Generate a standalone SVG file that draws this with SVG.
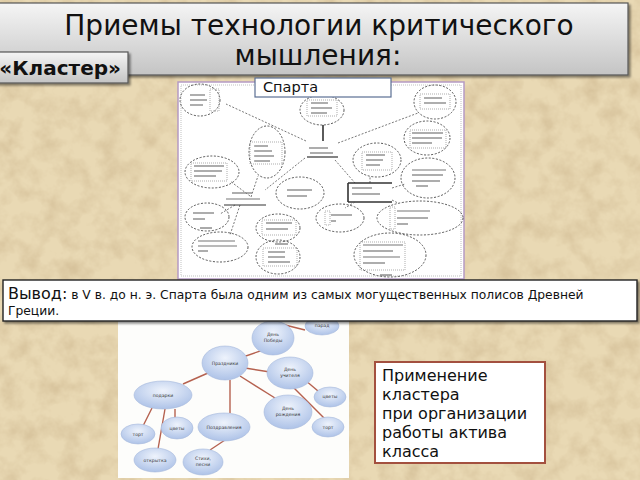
<svg xmlns="http://www.w3.org/2000/svg" width="640" height="480" viewBox="0 0 640 480">
<defs>
<filter id="paper" x="0" y="0" width="100%" height="100%">
<feTurbulence type="fractalNoise" baseFrequency="0.05" numOctaves="4" seed="7"/>
<feColorMatrix type="matrix" values="0 0 0 0 0.62  0 0 0 0 0.48  0 0 0 0 0.28  1.3 0 0 0 -0.5"/>
</filter>
<linearGradient id="gray" x1="0" y1="0" x2="0" y2="1">
<stop offset="0" stop-color="#f5f5f5"/>
<stop offset="1" stop-color="#c4c4c4"/>
</linearGradient>
<radialGradient id="bub" cx="0.5" cy="0.35" r="0.7">
<stop offset="0" stop-color="#eef3fc"/>
<stop offset="1" stop-color="#a9bfe6"/>
</radialGradient>
<filter id="sh" x="-5%" y="-5%" width="115%" height="130%">
<feDropShadow dx="2" dy="2" stdDeviation="1.2" flood-color="#000" flood-opacity="0.45"/>
</filter>
</defs>
<style>
.de{fill:none;stroke:#444;stroke-width:0.9;stroke-dasharray:2 1.6}
.dr{fill:none;stroke:#777;stroke-width:0.6;stroke-dasharray:1 1}
.tx{stroke:#777;stroke-width:1.2}
.dl{stroke:#555;stroke-width:0.8;stroke-dasharray:2 1.6;fill:none}
.sl{stroke:#333;stroke-width:1.6;fill:none}
.bn{fill:url(#bub);stroke:#a6b9dc;stroke-width:0.6}
.lk{stroke:#b5614f;stroke-width:1.4}
.bt{font-family:"DejaVu Sans",sans-serif;font-size:4.6px;fill:#333;text-anchor:middle}
</style>
<rect width="640" height="480" fill="#e9d9b4"/>
<rect width="640" height="480" filter="url(#paper)"/>

<g id="title">
<rect x="-4" y="3" width="632" height="72" fill="url(#gray)" stroke="#555" stroke-width="1.2" filter="url(#sh)"/>
<text x="319" y="35" font-family="DejaVu Sans, sans-serif" font-size="28" fill="#111" text-anchor="middle">Приемы технологии критического</text>
<text x="318" y="65" font-family="DejaVu Sans, sans-serif" font-size="28" fill="#111" text-anchor="middle">мышления:</text>
</g>

<g id="cluster-label">
<rect x="-6" y="52" width="134" height="31" fill="url(#gray)" stroke="#555" stroke-width="1.2" filter="url(#sh)"/>
<text x="121" y="75" font-family="DejaVu Sans, sans-serif" font-size="20" font-weight="bold" fill="#111" text-anchor="end">«Кластер»</text>
</g>

<g id="sparta-image">
<rect x="178" y="82" width="286" height="197" fill="#fff" stroke="#b59ac4" stroke-width="1.5"/>
<rect x="181" y="85" width="280" height="191" fill="none" stroke="#999" stroke-width="0.6" stroke-dasharray="1 1"/>
<g id="sparta-connectors">
<line class="dl" x1="306" y1="141" x2="226" y2="104"/>
<line class="dl" x1="338" y1="143" x2="418" y2="113"/>
<line x1="323" y1="141" x2="323" y2="125" stroke="#333" stroke-width="1.6"/>
<line class="dl" x1="305" y1="158" x2="265" y2="190"/>
<line class="dl" x1="335" y1="160" x2="355" y2="183"/>
<line class="dl" x1="250" y1="196" x2="230" y2="181"/>
<line class="dl" x1="251" y1="197" x2="258" y2="176"/>
<line class="dl" x1="235" y1="205" x2="220" y2="214"/>
<line class="dl" x1="240" y1="205" x2="230" y2="235"/>
<line class="dl" x1="370" y1="183" x2="370" y2="176"/>
<line class="dl" x1="392" y1="188" x2="405" y2="184"/>
<line class="sl" x1="348" y1="202" x2="392" y2="202"/>
<line class="sl" x1="348" y1="183" x2="348" y2="202"/>
<line class="sl" x1="348" y1="183" x2="392" y2="183"/>
<line class="dl" x1="355" y1="202" x2="345" y2="208"/>
<line class="dl" x1="392" y1="200" x2="398" y2="203"/>
</g>
<g id="sparta-nodes">
<ellipse class="de" cx="200" cy="100" rx="20" ry="16"/><rect class="dr" x="210" y="89" width="9" height="22"/>
<line class="tx" x1="190" y1="95" x2="205" y2="95"/><line class="tx" x1="190" y1="100" x2="207" y2="100"/><line class="tx" x1="190" y1="105" x2="203" y2="105"/>
<ellipse class="de" cx="322" cy="110" rx="22" ry="15"/><rect class="dr" x="307" y="100" width="30" height="16"/>
<line class="tx" x1="311" y1="103" x2="328" y2="103"/><line class="tx" x1="311" y1="108" x2="332" y2="108"/><line class="tx" x1="311" y1="113" x2="327" y2="113"/>
<ellipse class="de" cx="435" cy="102" rx="21" ry="17"/><rect class="dr" x="420" y="94" width="30" height="15"/>
<line class="tx" x1="424" y1="98" x2="442" y2="98"/><line class="tx" x1="424" y1="103" x2="446" y2="103"/>
<g id="center-node"><line class="tx" x1="309" y1="148" x2="328" y2="148"/><line class="tx" x1="310" y1="153" x2="333" y2="153"/><line x1="307" y1="157" x2="338" y2="157" stroke="#333" stroke-width="1.2"/></g>
<ellipse class="de" cx="267" cy="152" rx="18" ry="26"/><rect class="dr" x="250" y="142" width="32" height="22"/>
<line class="tx" x1="254" y1="146" x2="268" y2="146"/><line class="tx" x1="254" y1="151" x2="272" y2="151"/><line class="tx" x1="254" y1="156" x2="274" y2="156"/><line class="tx" x1="254" y1="161" x2="270" y2="161"/>
<ellipse class="de" cx="427" cy="138" rx="23" ry="17"/><rect class="dr" x="410" y="130" width="36" height="18"/>
<line class="tx" x1="412" y1="133" x2="443" y2="133"/><line class="tx" x1="412" y1="138" x2="442" y2="138"/><line class="tx" x1="412" y1="143" x2="432" y2="143"/>
<ellipse class="de" cx="377" cy="160" rx="24" ry="17"/><rect class="dr" x="362" y="152" width="30" height="18"/>
<line class="tx" x1="366" y1="155" x2="385" y2="155"/><line class="tx" x1="366" y1="160" x2="383" y2="160"/><line class="tx" x1="366" y1="165" x2="380" y2="165"/>
<ellipse class="de" cx="212" cy="172" rx="27" ry="16"/><rect class="dr" x="191" y="163" width="36" height="18"/>
<line class="tx" x1="194" y1="166" x2="224" y2="166"/><line class="tx" x1="194" y1="171" x2="222" y2="171"/><line class="tx" x1="194" y1="176" x2="216" y2="176"/>
<ellipse class="de" cx="428" cy="178" rx="27" ry="20"/>
<line class="tx" x1="412" y1="170" x2="446" y2="170"/><line class="tx" x1="412" y1="175" x2="443" y2="175"/><line class="tx" x1="412" y1="181" x2="440" y2="181"/><line class="tx" x1="416" y1="186" x2="428" y2="186"/>
<ellipse class="de" cx="300" cy="193" rx="24" ry="16"/>
<line class="tx" x1="287" y1="190" x2="312" y2="190"/><line class="tx" x1="287" y1="196" x2="307" y2="196"/>
<g id="left-subnode"><line class="tx" x1="232" y1="193" x2="252" y2="193"/><line class="tx" x1="226" y1="199" x2="260" y2="199"/><line x1="224" y1="205" x2="266" y2="205" stroke="#333" stroke-width="1.2"/></g>
<g id="right-rect"><line class="tx" x1="352" y1="188" x2="372" y2="188"/><line class="tx" x1="352" y1="194" x2="380" y2="194"/></g>
<ellipse class="de" cx="207" cy="217" rx="22" ry="14"/>
<line class="tx" x1="193" y1="213" x2="214" y2="213"/><line class="tx" x1="193" y1="219" x2="205" y2="219"/><line x1="200" y1="228" x2="212" y2="228" stroke="#555" stroke-width="1"/>
<ellipse class="de" cx="278" cy="228" rx="22" ry="14"/><rect class="dr" x="262" y="220" width="34" height="15"/>
<line class="tx" x1="266" y1="223" x2="292" y2="223"/><line class="tx" x1="266" y1="229" x2="288" y2="229"/>
<ellipse class="de" cx="340" cy="218" rx="24" ry="14"/><rect class="dr" x="325" y="211" width="5" height="14"/>
<line class="tx" x1="331" y1="215" x2="352" y2="215"/><line class="tx" x1="331" y1="221" x2="336" y2="221"/>
<ellipse class="de" cx="420" cy="218" rx="43" ry="17"/><rect class="dr" x="390" y="207" width="5" height="22"/>
<line class="tx" x1="397" y1="211" x2="430" y2="211"/><line class="tx" x1="397" y1="218" x2="428" y2="218"/><line class="tx" x1="397" y1="224" x2="408" y2="224"/>
<ellipse class="de" cx="220" cy="247" rx="28" ry="15"/>
<line class="tx" x1="198" y1="241" x2="235" y2="241"/><line class="tx" x1="198" y1="246" x2="237" y2="246"/><line class="tx" x1="198" y1="251" x2="208" y2="251"/>
<ellipse class="de" cx="278" cy="257" rx="22" ry="17"/><rect class="dr" x="263" y="248" width="34" height="18"/>
<line class="tx" x1="268" y1="252" x2="285" y2="252"/><line class="tx" x1="268" y1="257" x2="285" y2="257"/><line class="tx" x1="268" y1="262" x2="290" y2="262"/><line x1="275" y1="244" x2="288" y2="244" stroke="#555" stroke-width="1"/>
<ellipse class="de" cx="390" cy="255" rx="36" ry="22"/><rect class="dr" x="360" y="242" width="45" height="28"/>
<line class="tx" x1="363" y1="245" x2="403" y2="245"/><line class="tx" x1="363" y1="251" x2="393" y2="251"/><line class="tx" x1="363" y1="257" x2="400" y2="257"/><line class="tx" x1="363" y1="263" x2="385" y2="263"/><line x1="380" y1="275" x2="392" y2="275" stroke="#555" stroke-width="1"/>
</g>
</g>

<g id="sparta-label">
<rect x="255" y="78" width="136" height="19" fill="#fff" stroke="#5b6f93" stroke-width="1.2"/>
<text x="263" y="92" font-family="DejaVu Sans, sans-serif" font-size="14.5" fill="#111">Спарта</text>
</g>

<g id="holiday-image">
<rect x="118" y="318" width="231" height="160" fill="#fdfdfb"/>
<g id="holiday-connectors">
<line class="lk" x1="240" y1="358" x2="263" y2="350"/>
<line class="lk" x1="285" y1="325" x2="305" y2="330"/>
<line class="lk" x1="245" y1="368" x2="270" y2="372"/>
<line class="lk" x1="305" y1="380" x2="318" y2="391"/>
<line class="lk" x1="293" y1="387" x2="325" y2="419"/>
<line class="lk" x1="208" y1="373" x2="183" y2="384"/>
<line class="lk" x1="230" y1="380" x2="230" y2="413"/>
<line class="lk" x1="240" y1="376" x2="275" y2="398"/>
<line class="lk" x1="152" y1="408" x2="143" y2="426"/>
<line class="lk" x1="175" y1="409" x2="175" y2="418"/>
<line class="lk" x1="165" y1="409" x2="158" y2="449"/>
<line class="lk" x1="225" y1="440" x2="210" y2="450"/>
</g>
<g id="holiday-nodes">
<ellipse class="bn" cx="322" cy="326" rx="17" ry="9"/><text class="bt" x="322" y="327">парад</text>
<ellipse class="bn" cx="273" cy="338" rx="21" ry="17"/><text class="bt" x="273" y="336">День</text><text class="bt" x="273" y="342">Победы</text>
<ellipse class="bn" cx="225" cy="363" rx="23" ry="17"/><text class="bt" x="225" y="365">Праздники</text>
<ellipse class="bn" cx="290" cy="373" rx="23" ry="16"/><text class="bt" x="290" y="371">День</text><text class="bt" x="290" y="377">учителя</text>
<ellipse class="bn" cx="330" cy="397" rx="16" ry="10"/><text class="bt" x="330" y="398">цветы</text>
<ellipse class="bn" cx="163" cy="395" rx="29" ry="14"/><text class="bt" x="163" y="397">подарки</text>
<ellipse class="bn" cx="288" cy="412" rx="24" ry="17"/><text class="bt" x="288" y="410">День</text><text class="bt" x="288" y="416">рождения</text>
<ellipse class="bn" cx="328" cy="427" rx="16" ry="10"/><text class="bt" x="328" y="429">торт</text>
<ellipse class="bn" cx="138" cy="434" rx="17" ry="10"/><text class="bt" x="138" y="436">торт</text>
<ellipse class="bn" cx="177" cy="428" rx="16" ry="11"/><text class="bt" x="177" y="430">цветы</text>
<ellipse class="bn" cx="224" cy="427" rx="26" ry="14"/><text class="bt" x="224" y="429">Поздравления</text>
<ellipse class="bn" cx="155" cy="460" rx="21" ry="12"/><text class="bt" x="155" y="462">открытка</text>
<ellipse class="bn" cx="203" cy="462" rx="20" ry="13"/><text class="bt" x="203" y="460">Стихи,</text><text class="bt" x="203" y="466">песни</text>
</g>
</g>

<g id="conclusion">
<rect x="3" y="280" width="634" height="41" fill="#fff" stroke="#222" stroke-width="1.4" filter="url(#sh)"/>
<text x="8" y="299" font-family="DejaVu Sans, sans-serif" fill="#111"><tspan font-size="16">Вывод:</tspan><tspan font-size="12.3"> в V в. до н. э. Спарта была одним из самых могущественных полисов Древней</tspan></text>
<text x="8" y="315" font-family="DejaVu Sans, sans-serif" font-size="12.3" fill="#111">Греции.</text>
</g>

<g id="application-note">
<rect x="375" y="362" width="170" height="101" fill="#fff" stroke="#a3503f" stroke-width="2"/>
<text font-family="DejaVu Sans, sans-serif" font-size="16" fill="#111">
<tspan x="382" y="381">Применение</tspan>
<tspan x="382" y="400">кластера</tspan>
<tspan x="382" y="419">при организации</tspan>
<tspan x="382" y="438">работы актива</tspan>
<tspan x="382" y="457">класса</tspan>
</text>
</g>
</svg>
